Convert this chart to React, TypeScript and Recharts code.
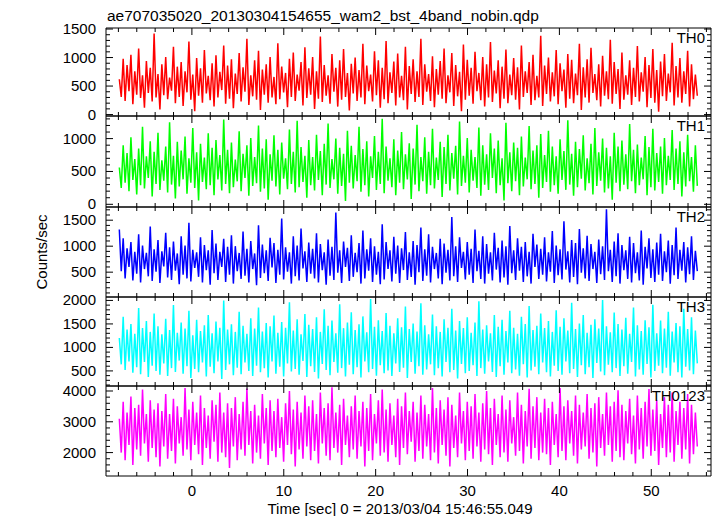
import React from "react";
import { LineChart, Line, XAxis, YAxis } from "recharts";

// light curves (counts/sec), one bin per value
const th0 = [
  620,310,980,240,870,410,1050,180,760,350,1160,290,690,120,940,380,820,230,1420,300,
  710,90,880,340,1010,270,650,420,1190,200,840,310,920,150,760,390,1280,260,700,60,
  990,330,810,210,1130,370,680,250,900,140,1040,300,750,430,1210,190,860,280,970,110,
  720,360,1080,230,830,400,1330,170,690,320,950,260,1120,80,790,350,880,210,1010,300,
  660,180,1250,270,840,390,730,130,980,310,1090,240,700,420,920,160,1180,290,810,350,
  1010,100,760,280,1370,220,870,330,690,190,1060,400,820,140,950,260,1150,310,730,70,
  890,370,1000,240,780,300,1240,180,860,410,700,230,1110,340,950,120,820,270,1290,200,
  740,380,930,160,1070,300,680,250,1190,90,850,360,970,220,760,310,1330,170,880,400,
  710,240,1020,130,800,350,940,280,1160,200,690,390,1080,150,870,320,750,60,1230,260,
  960,330,820,190,1100,410,730,250,1010,140,880,300,1270,220,770,370,950,110,840,280,
  1140,200,700,340,990,260,830,90,1210,310,760,380,920,170,1050,250,680,300,1380,150,
  860,360,1000,230,740,320,1130,180,900,410,790,120,1060,280,960,200,720,340,1240,80,
  830,300,970,210,1170,380,710,250,880,140,1030,330,760,270,1310,190,920,360,800,100,
  1090,260,690,350,950,170,820,310,1200,230,740,400,1010,130,870,290,1150,210,780,50,
  930,320,1060,240,720,390,1260,160,850,300,990,210,760,360,1120,140,880,270,700,330,
];
const th1 = [
  560,250,900,330,780,200,1020,370,690,150,850,290,1180,240,730,400,960,120,800,310,
  1090,220,670,360,880,180,1250,300,740,90,950,270,820,380,1030,160,700,330,1160,250,
  790,60,920,340,710,230,1080,290,860,140,980,380,750,210,1290,310,830,170,940,260,
  680,350,1110,200,770,400,900,130,1010,280,720,320,1200,190,850,240,990,70,760,360,
  1050,270,830,150,940,390,700,230,1140,310,800,180,1270,260,870,340,740,100,980,290,
  720,210,1060,370,810,140,920,300,1230,250,690,380,1000,160,860,280,770,50,1120,330,
  890,240,750,350,1180,190,840,290,960,120,730,400,1040,220,800,310,1300,170,880,360,
  700,260,990,140,820,330,1100,230,760,380,930,80,850,300,1210,200,720,350,1020,160,
  800,290,1150,240,710,370,950,110,870,310,1060,210,780,390,890,150,1260,280,740,330,
  1010,180,830,360,720,250,1170,130,900,300,760,220,1080,400,850,170,970,290,700,60,
  1240,320,790,200,940,350,860,140,1030,270,710,380,1190,230,820,310,900,100,1070,250,
  750,340,1120,190,880,290,730,160,990,370,810,220,1280,300,770,130,950,260,840,390,
  1050,210,700,320,920,150,1160,280,790,360,1000,180,860,240,730,70,1090,330,880,200,
  970,300,760,230,1220,350,830,170,910,290,710,380,1040,140,870,260,1150,210,780,340,
  880,160,1010,290,740,370,1130,220,850,310,960,120,790,270,1060,350,720,190,900,280,
];
const th2 = [
  1320,520,1150,380,960,600,1080,340,890,470,1230,300,1010,560,870,420,1380,330,940,510,
  1120,290,900,610,1260,400,980,350,1090,530,860,270,1190,450,1010,380,1450,320,930,580,
  880,410,1170,300,1020,540,920,260,1310,480,1050,350,890,600,1140,310,990,450,1210,280,
  1000,520,870,370,1280,430,950,300,1100,560,860,250,1400,390,1030,480,920,330,1160,590,
  1060,290,930,450,1530,360,980,510,880,280,1190,420,1010,340,1340,570,900,310,1070,470,
  950,380,1250,300,1040,540,880,260,1130,430,990,350,1650,490,920,290,1090,600,970,330,
  1210,410,870,500,1060,280,1300,380,940,530,1150,310,1000,450,890,270,1420,360,1080,560,
  920,320,1180,470,1010,290,960,540,1270,350,880,410,1100,260,1020,500,1360,330,940,430,
  1230,300,990,560,870,380,1140,270,1050,490,930,340,1560,420,1000,310,1170,580,890,360,
  1080,450,950,290,1320,520,910,370,1190,280,1040,470,880,340,1260,550,970,300,1110,400,
  1000,260,1390,480,920,350,1150,530,990,310,1080,420,890,280,1240,600,1030,370,950,450,
  1170,320,880,510,1290,290,1010,440,940,360,1480,550,900,300,1120,410,1060,270,1330,490,
  960,380,1200,330,1040,560,890,290,1130,460,1000,350,1710,520,930,310,1090,420,1250,280,
  1020,540,920,370,1180,300,1060,480,880,340,1300,260,990,570,1150,390,940,310,1070,450,
  1240,330,900,500,1110,280,1020,440,1360,370,930,530,1080,300,980,460,1190,350,910,520,
];
const th3 = [
  1200,640,1650,520,1380,700,1500,460,1290,580,1840,430,1410,690,1560,370,1330,610,1720,500,
  1450,420,1280,660,1610,390,1370,560,1900,480,1310,720,1530,440,1400,600,1780,350,1260,540,
  1590,470,1350,680,1470,380,1690,590,1300,450,1550,700,1420,330,2000,520,1380,640,1490,410,
  1330,570,1760,430,1460,680,1290,500,1620,390,1400,610,1850,470,1340,560,1520,360,1450,700,
  1680,440,1310,590,1540,380,1420,660,1960,490,1360,540,1600,420,1280,710,1710,370,1480,600,
  1390,480,1640,340,1330,650,1810,520,1460,410,1570,690,1300,460,1920,560,1410,380,1530,630,
  1750,430,1370,580,1490,360,1660,700,1320,470,2030,540,1440,400,1580,620,1350,450,1730,510,
  1460,390,1300,660,1620,480,1430,570,1870,350,1390,690,1510,440,1340,600,1940,420,1470,530,
  1280,640,1700,410,1450,560,1330,380,1600,690,1420,470,1820,520,1360,340,1560,650,1410,450,
  1640,500,1310,620,1530,390,1980,560,1380,440,1470,700,1300,480,1690,370,1440,600,1590,420,
  1350,680,1780,450,1420,530,1290,400,1650,640,1500,360,1880,510,1370,590,1460,430,1720,680,
  1410,470,1560,380,1330,610,1790,500,1440,420,1620,700,1360,450,1950,540,1390,370,1510,620,
  1690,430,1310,580,1480,350,1600,670,1400,490,2010,410,1450,630,1320,470,1740,560,1500,390,
  1380,600,1630,440,1290,690,1850,380,1470,530,1350,420,1580,650,1430,360,1910,500,1300,610,
  1570,450,1400,570,1760,400,1340,680,1520,470,1450,360,1820,590,1390,510,1640,430,1360,660,
];
const th0123 = [
  3100,2000,3650,1750,3300,2250,3820,1600,3450,2100,3550,1900,4050,2300,3250,1700,3700,2150,3400,1850,
  3600,1550,3350,2200,3900,1800,3250,2050,3750,1650,3500,2300,3150,1900,4100,2100,3400,1750,3650,2250,
  3300,1950,3850,1600,3450,2150,3200,1800,3700,2350,3550,1700,3950,2000,3300,1850,3600,1500,3450,2200,
  3800,1750,3250,2100,3650,1900,4080,2250,3350,1650,3550,2000,3200,1800,3900,2300,3450,1600,3700,2050,
  3350,1850,3750,2150,3150,1700,3600,2250,4000,1950,3400,1550,3650,2100,3300,1800,3850,2200,3500,1750,
  3700,2050,3250,1650,3950,2300,3450,1900,3600,1750,4120,2150,3300,2000,3550,1600,3750,2250,3200,1850,
  3500,2100,3850,1800,3350,2200,3650,1550,3450,2050,3900,1750,3250,2300,3700,1900,4050,2000,3400,1700,
  3600,2250,3200,1850,3750,1600,3500,2150,3950,1950,3350,2350,3650,1700,3300,2050,3850,1800,3550,2200,
  3250,1750,4100,2000,3450,1650,3700,2250,3400,1900,3800,1550,3550,2150,3200,1850,3950,2300,3350,1750,
  3650,2050,3500,1800,3900,2200,3300,1700,3600,2100,4000,1950,3450,1600,3750,2250,3250,1850,3850,2000,
  3400,1700,3700,2300,3150,1900,3950,2050,3550,1650,3350,2200,4070,1800,3500,2150,3800,1750,3300,2000,
  3750,1950,3450,1600,3650,2250,3250,1850,4100,2050,3500,1750,3700,2300,3350,1900,3850,1650,3550,2100,
  3300,2200,3900,1800,3450,2000,3600,1550,3800,2150,3250,1900,3950,2250,3500,1700,3650,2050,4020,1850,
  3550,1750,3350,2300,3750,1950,3200,1650,3850,2100,3450,1800,3650,2200,4060,1900,3400,2050,3700,1600,
  3250,2150,3800,1850,3550,2000,3950,1700,3350,2250,3650,1800,3450,2100,3900,1650,3550,1950,3300,2200,
];

const TIME_START = -7.9;
const TIME_STEP = 0.2104;
const X_LABELS = [0, 10, 20, 30, 40, 50];
const X_DOMAIN: [number, number] = [-9.35, 56.5];

const rows = th0.map((v, i) => ({
  t: TIME_START + i * TIME_STEP,
  th0: v,
  th1: th1[i],
  th2: th2[i],
  th3: th3[i],
  th0123: th0123[i],
}));

const panels = [
  { key: "th0", label: "TH0", color: "#ff0000", domain: [-25, 1518], majors: [0, 500, 1000, 1500], minor: 100, top: 28, h: 88 },
  { key: "th1", label: "TH1", color: "#00ff00", domain: [-41, 1344], majors: [0, 500, 1000], minor: 100, top: 116, h: 91 },
  { key: "th2", label: "TH2", color: "#0000ff", domain: [22, 1754], majors: [500, 1000, 1500], minor: 100, top: 207, h: 90 },
  { key: "th3", label: "TH3", color: "#00ffff", domain: [179, 2073], majors: [500, 1000, 1500, 2000], minor: 100, top: 297, h: 89 },
  { key: "th0123", label: "TH0123", color: "#ff00ff", domain: [1240, 4162], majors: [2000, 3000, 4000], minor: 200, top: 386, h: 90 },
];

const FONT = '"Liberation Sans", Arial, Helvetica, sans-serif';

const xTicks: number[] = [];
for (let v = -8; v <= 56; v += 2) xTicks.push(v);

function yTicksFor(domain: number[], step: number) {
  const out: number[] = [];
  for (let v = Math.ceil(domain[0] / step) * step; v <= domain[1]; v += step) out.push(v);
  return out;
}

const isMajorX = (v: number) => v % 10 === 0;

export default function App() {
  return (
    <div style={{ position: "absolute", left: 0, top: 0, width: 717, height: 516, background: "#fff", fontFamily: FONT }}>
      <style>{".recharts-surface{overflow:visible}"}</style>
      {panels.map((p, idx) => {
        const last = idx === panels.length - 1;
        const yTicks = yTicksFor(p.domain, p.minor);
        const isMajorY = (v: number) => p.majors.includes(v);
        return (
          <div key={p.key} style={{ position: "absolute", left: 0, top: p.top - 1 }}>
            <LineChart width={717} height={p.h + 2} data={rows} margin={{ top: 0, right: 0, bottom: 0, left: 0 }}>
              <XAxis
                xAxisId="b"
                dataKey="t"
                type="number"
                domain={X_DOMAIN}
                allowDataOverflow
                ticks={xTicks}
                interval={0}
                height={1}
                tickSize={0}
                tickMargin={0}
                tickLine={false}
                axisLine={{ stroke: "#000" }}
                tick={(tp: any) => {
                  const v = tp.payload.value;
                  const maj = isMajorX(v);
                  return (
                    <g key={"xb" + v}>
                      <line x1={tp.x} y1={tp.y} x2={tp.x} y2={tp.y - (maj ? 7 : 4)} stroke="#000" />
                      {last && X_LABELS.includes(v) && (
                        <text x={tp.x} y={tp.y + 20} textAnchor="middle" fontSize={15} fill="#000" fontFamily={FONT}>
                          {v}
                        </text>
                      )}
                    </g>
                  );
                }}
              />
              <XAxis
                xAxisId="t"
                orientation="top"
                dataKey="t"
                type="number"
                domain={X_DOMAIN}
                allowDataOverflow
                ticks={xTicks}
                interval={0}
                height={1}
                tickSize={0}
                tickMargin={0}
                tickLine={false}
                axisLine={{ stroke: "#000" }}
                tick={(tp: any) => {
                  const v = tp.payload.value;
                  const maj = isMajorX(v);
                  return <line key={"xt" + v} x1={tp.x} y1={tp.y} x2={tp.x} y2={tp.y + (maj ? 7 : 4)} stroke="#000" />;
                }}
              />
              <YAxis
                yAxisId="l"
                type="number"
                domain={p.domain}
                allowDataOverflow
                ticks={yTicks}
                interval={0}
                width={106}
                tickSize={0}
                tickMargin={0}
                tickLine={false}
                axisLine={{ stroke: "#000" }}
                tick={(tp: any) => {
                  const v = tp.payload.value;
                  const maj = isMajorY(v);
                  return (
                    <g key={"yl" + v}>
                      <line x1={tp.x} y1={tp.y} x2={tp.x + (maj ? 7 : 4)} y2={tp.y} stroke="#000" />
                      {maj && (
                        <text x={tp.x - 10} y={tp.y + 5} textAnchor="end" fontSize={15} fill="#000" fontFamily={FONT}>
                          {v}
                        </text>
                      )}
                    </g>
                  );
                }}
              />
              <YAxis
                yAxisId="r"
                orientation="right"
                type="number"
                domain={p.domain}
                allowDataOverflow
                ticks={yTicks}
                interval={0}
                width={6}
                tickSize={0}
                tickMargin={0}
                tickLine={false}
                axisLine={{ stroke: "#000" }}
                tick={(tp: any) => {
                  const v = tp.payload.value;
                  const maj = isMajorY(v);
                  return <line key={"yr" + v} x1={tp.x} y1={tp.y} x2={tp.x - (maj ? 7 : 4)} y2={tp.y} stroke="#000" />;
                }}
              />
              <Line
                xAxisId="b"
                yAxisId="l"
                dataKey={p.key}
                type="linear"
                stroke={p.color}
                strokeWidth={1.5}
                dot={false}
                isAnimationActive={false}
              />
            </LineChart>
          </div>
        );
      })}
      <svg width={717} height={516} style={{ position: "absolute", left: 0, top: 0, pointerEvents: "none" }}>
        <text x={107} y={21} fontSize={15.5} fill="#000" fontFamily={FONT}>
          ae707035020_20130304154655_wam2_bst_4band_nobin.qdp
        </text>
        <text x={47} y={252} fontSize={15} fill="#000" fontFamily={FONT} textAnchor="middle" transform="rotate(-90 47 252)">
          Counts/sec
        </text>
        <text x={400} y={514} fontSize={15} fill="#000" fontFamily={FONT} textAnchor="middle">
          Time [sec] 0 = 2013/03/04 15:46:55.049
        </text>
        {panels.map((p) => (
          <text key={p.key} x={705} y={p.top + 15} fontSize={15} fill="#000" fontFamily={FONT} textAnchor="end">
            {p.label}
          </text>
        ))}
      </svg>
    </div>
  );
}
